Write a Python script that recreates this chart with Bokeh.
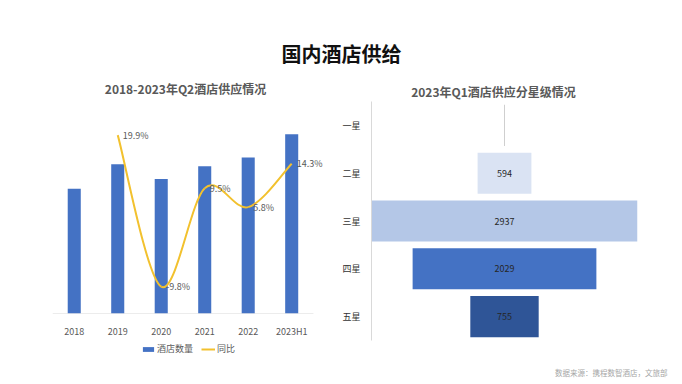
from bokeh.plotting import figure
from bokeh.models import (Range1d, FactorRange, ColumnDataSource, Label, LabelSet,
                          Legend, LegendItem, FixedTicker)
from bokeh.layouts import column, row
from bokeh.embed import file_html
from bokeh.resources import INLINE
from bokeh.core.properties import value

FONT = "Noto Sans CJK SC"

# ---------------- data ----------------
years = ["2018", "2019", "2020", "2021", "2022", "2023H1"]
hotel_counts = [256, 306, 276, 302, 320, 368]          # relative units
yoy_years = ["2019", "2020", "2021", "2022", "2023H1"]
yoy_pct = [19.9, -9.8, 9.5, 5.8, 14.3]
yoy_labels = ["19.9%", "-9.8%", "9.5%", "5.8%", "14.3%"]
series_names = ["酒店数量", "同比"]

star_levels = ["一星", "二星", "三星", "四星", "五星"]
star_counts = [11, 594, 2937, 2029, 755]
star_labels = ["", "594", "2937", "2029", "755"]
star_fill = ["#cfcfcf", "#dae3f3", "#b4c7e7", "#4472c4", "#2f5597"]

main_title = "国内酒店供给"
left_title = "2018-2023年Q2酒店供应情况"
right_title = "2023年Q1酒店供应分星级情况"
source_note = "数据来源：携程数智酒店，文旅部"

GRAY = "#595959"
BAR_BLUE = "#4472c4"
LINE_GOLD = "#f2c12e"
NAN = float("nan")


def blank(width, height):
    f = figure(width=width, height=height, x_range=Range1d(0, width), y_range=Range1d(0, height),
               output_backend="svg", toolbar_location=None, min_border=0,
               x_axis_location=None, y_axis_location=None)
    f.grid.visible = False
    f.outline_line_color = None
    return f


# ---------------- top title strip ----------------
top = blank(680, 100)
top.add_layout(Label(x=341, y=47, text=main_title, text_align="center", text_baseline="middle",
                     text_font=FONT, text_font_size="20px", text_font_style="bold",
                     text_color="#111111"))
top.add_layout(Label(x=185, y=12, text=left_title, text_align="center", text_baseline="middle",
                     text_font=FONT, text_font_size="12px", text_font_style="bold",
                     text_color=GRAY))
top.add_layout(Label(x=493, y=9, text=right_title, text_align="center", text_baseline="middle",
                     text_font=FONT, text_font_size="12px", text_font_style="bold",
                     text_color=GRAY))

# ---------------- left: bars + yoy line ----------------
xs = list(range(len(years)))
x_lo, x_hi = -0.5, len(years) - 0.5
left = figure(width=338, height=240, x_range=Range1d(x_lo, x_hi + 0.3),
              y_range=Range1d(0, 396), output_backend="svg", toolbar_location=None,
              min_border_left=52, min_border_right=12, min_border_top=20, min_border_bottom=22,
              y_axis_location=None)
left.extra_y_ranges = {"yoy": Range1d(-15.05, 22.77)}
left.grid.visible = False
left.outline_line_color = None

# category baseline (axis line) across the category slots only
left.segment(x0=[x_lo], y0=[0], x1=[x_hi], y1=[0], line_color="#d9d9d9", line_width=1)
left.vbar(x=xs, top=hotel_counts, width=0.3, fill_color=BAR_BLUE, line_color=None)

px = [years.index(y) for y in yoy_years]
py = yoy_pct
n = len(px)
seg = dict(x0=[], y0=[], x1=[], y1=[], cx0=[], cy0=[], cx1=[], cy1=[])
for i in range(n - 1):
    im = max(i - 1, 0)
    ip = min(i + 2, n - 1)
    seg["x0"].append(px[i]); seg["y0"].append(py[i])
    seg["x1"].append(px[i + 1]); seg["y1"].append(py[i + 1])
    seg["cx0"].append(px[i] + (px[i + 1] - px[im]) / 6.0)
    seg["cy0"].append(py[i] + (py[i + 1] - py[im]) / 6.0)
    seg["cx1"].append(px[i + 1] - (px[ip] - px[i]) / 6.0)
    seg["cy1"].append(py[i + 1] - (py[ip] - py[i]) / 6.0)
left.bezier(x0="x0", y0="y0", x1="x1", y1="y1", cx0="cx0", cy0="cy0",
            cx1="cx1", cy1="cy1", source=ColumnDataSource(seg),
            line_color=LINE_GOLD, line_width=2, y_range_name="yoy")

yoy_src = ColumnDataSource(dict(x=px, y=py, t=yoy_labels))
left.add_layout(LabelSet(x="x", y="y", text="t", source=yoy_src, y_range_name="yoy",
                         x_offset=5, text_baseline="middle", text_align="left",
                         text_font=value(FONT), text_font_size="9px", text_color=GRAY))

ax = left.xaxis[0]
ax.ticker = FixedTicker(ticks=xs)
ax.major_label_overrides = {i: y for i, y in zip(xs, years)}
ax.axis_line_color = None
ax.major_tick_line_color = None
ax.minor_tick_line_color = None
ax.major_label_text_color = GRAY
ax.major_label_text_font = FONT
ax.major_label_text_font_size = "9px"
ax.major_label_standoff = 5

# legend strip under the left chart
leg = blank(338, 22)
proxy_bar = leg.vbar(x=[NAN], top=[NAN], width=1, fill_color=BAR_BLUE, line_color=None)
proxy_line = leg.line(x=[NAN], y=[NAN], line_color=LINE_GOLD, line_width=2)
legend = Legend(items=[LegendItem(label=series_names[0], renderers=[proxy_bar]),
                       LegendItem(label=series_names[1], renderers=[proxy_line])],
                orientation="horizontal", location="top_center",
                label_text_font=FONT, label_text_font_size="9px", label_text_color=GRAY,
                glyph_width=14, glyph_height=6, label_standoff=2, spacing=8,
                label_height=12, padding=0, margin=2, border_line_color=None,
                background_fill_alpha=0)
leg.add_layout(legend)

# ---------------- right: star-level funnel ----------------
half = max(star_counts) / 2.0
fsrc = ColumnDataSource(dict(
    level=star_levels,
    left=[-v / 2.0 for v in star_counts],
    right=[v / 2.0 for v in star_counts],
    mid=[0.0 for v in star_counts],
    txt=star_labels,
    fill=star_fill,
))
right = figure(width=342, height=262, x_range=Range1d(-half, half),
               y_range=FactorRange(factors=star_levels[::-1], range_padding=0),
               output_backend="svg", toolbar_location=None,
               min_border_left=33, min_border_right=43, min_border_top=1, min_border_bottom=22,
               x_axis_location=None)
right.grid.visible = False
right.outline_line_color = None
right.hbar(y="level", left="left", right="right", height=0.86, fill_color="fill",
           line_color=None, source=fsrc)
right.add_layout(LabelSet(x="mid", y="level", text="txt", source=fsrc,
                          text_align="center", text_baseline="middle",
                          text_font=value(FONT), text_font_size="9px", text_color="#262626"))
ay = right.yaxis[0]
ay.axis_line_color = "#d9d9d9"
ay.major_tick_line_color = None
ay.minor_tick_line_color = None
ay.major_label_text_color = "#333333"
ay.major_label_text_font = FONT
ay.major_label_text_font_size = "9px"
ay.major_label_standoff = 5

# ---------------- footer (full width) ----------------
footer = blank(680, 20)
footer.add_layout(Label(x=667, y=10, text=source_note, text_align="right", text_baseline="middle",
                        text_font=FONT, text_font_size="7.5px", text_color="#a6a6a6"))

layout = column(top, row(column(left, leg), right), footer)
open("out.html", "w").write(file_html(layout, INLINE))
